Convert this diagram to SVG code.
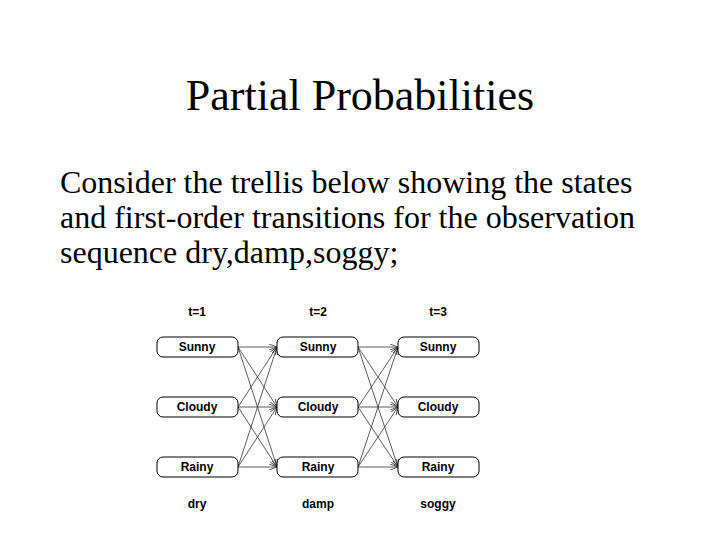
<svg xmlns="http://www.w3.org/2000/svg" width="720" height="540" viewBox="0 0 720 540">
<style>
.title{font-family:"Liberation Serif",serif;font-size:44px;fill:#000}
.body{font-family:"Liberation Serif",serif;font-size:32px;fill:#000}
.box{fill:#fff;stroke:#000;stroke-width:1}
.lbl{font-family:"Liberation Sans",Arial,sans-serif;font-size:12px;font-weight:bold;fill:#000;text-anchor:middle}
.edge{stroke:#333;stroke-width:0.8;fill:none;marker-end:url(#ah)}
</style>
<defs>
<marker id="ah" markerWidth="8" markerHeight="6" refX="8" refY="3" orient="auto" markerUnits="userSpaceOnUse">
<path d="M0,0 L8,3 L0,6" fill="none" stroke="#333" stroke-width="0.8"/>
</marker>
</defs>
<rect width="720" height="540" fill="#fff"/>
<text class="title" x="360" y="110" text-anchor="middle">Partial Probabilities</text>
<text class="body" x="60" y="193">Consider the trellis below showing the states</text>
<text class="body" x="60" y="228">and first-order transitions for the observation</text>
<text class="body" x="60" y="263">sequence dry,damp,soggy;</text>
<g id="connectors">
<path class="edge" d="M238,347 L277,347"/>
<path class="edge" d="M238,347 L277,407"/>
<path class="edge" d="M238,347 L277,467"/>
<path class="edge" d="M238,407 L277,347"/>
<path class="edge" d="M238,407 L277,407"/>
<path class="edge" d="M238,407 L277,467"/>
<path class="edge" d="M238,467 L277,347"/>
<path class="edge" d="M238,467 L277,407"/>
<path class="edge" d="M238,467 L277,467"/>
<path class="edge" d="M358,347 L398,347"/>
<path class="edge" d="M358,347 L398,407"/>
<path class="edge" d="M358,347 L398,467"/>
<path class="edge" d="M358,407 L398,347"/>
<path class="edge" d="M358,407 L398,407"/>
<path class="edge" d="M358,407 L398,467"/>
<path class="edge" d="M358,467 L398,347"/>
<path class="edge" d="M358,467 L398,407"/>
<path class="edge" d="M358,467 L398,467"/>
</g>
<g id="t1"><text class="lbl" x="197" y="316">t=1</text></g>
<g id="t2"><text class="lbl" x="318" y="316">t=2</text></g>
<g id="t3"><text class="lbl" x="438" y="316">t=3</text></g>
<g id="sunny1"><rect class="box" x="157" y="337" width="81" height="20" rx="6"/><text class="lbl" x="197" y="351">Sunny</text></g>
<g id="cloudy1"><rect class="box" x="157" y="397" width="81" height="20" rx="6"/><text class="lbl" x="197" y="411">Cloudy</text></g>
<g id="rainy1"><rect class="box" x="157" y="457" width="81" height="20" rx="6"/><text class="lbl" x="197" y="471">Rainy</text></g>
<g id="sunny2"><rect class="box" x="277" y="337" width="81" height="20" rx="6"/><text class="lbl" x="318" y="351">Sunny</text></g>
<g id="cloudy2"><rect class="box" x="277" y="397" width="81" height="20" rx="6"/><text class="lbl" x="318" y="411">Cloudy</text></g>
<g id="rainy2"><rect class="box" x="277" y="457" width="81" height="20" rx="6"/><text class="lbl" x="318" y="471">Rainy</text></g>
<g id="sunny3"><rect class="box" x="398" y="337" width="81" height="20" rx="6"/><text class="lbl" x="438" y="351">Sunny</text></g>
<g id="cloudy3"><rect class="box" x="398" y="397" width="81" height="20" rx="6"/><text class="lbl" x="438" y="411">Cloudy</text></g>
<g id="rainy3"><rect class="box" x="398" y="457" width="81" height="20" rx="6"/><text class="lbl" x="438" y="471">Rainy</text></g>
<g id="obs1"><text class="lbl" x="197" y="508">dry</text></g>
<g id="obs2"><text class="lbl" x="318" y="508">damp</text></g>
<g id="obs3"><text class="lbl" x="438" y="508">soggy</text></g>
</svg>
